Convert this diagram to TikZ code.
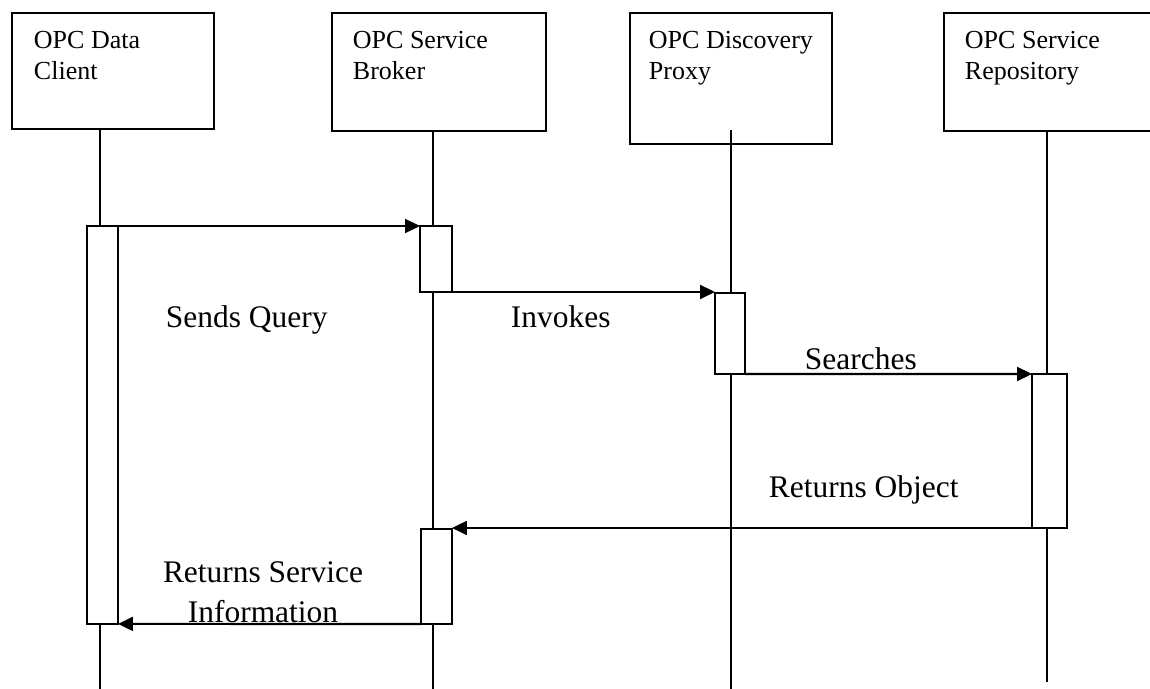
\documentclass[tikz,border=0pt]{standalone}
\usepackage{fontspec}
\setmainfont{Liberation Serif}
\usetikzlibrary{arrows.meta}

\begin{document}
\begin{tikzpicture}[x=0.02cm, y=-0.02cm, line width=1.1pt,
	actor/.style={draw, black, inner sep=0pt, anchor=north west},
	hdr/.style={inner sep=0pt, anchor=north west, align=left, font=\fontsize{14.8pt}{17.6pt}\selectfont},
	act/.style={draw, black, fill=white, inner sep=0pt, outer sep=0pt, anchor=north west, minimum width=0.62cm},
	msg/.style={-{Triangle[length=0.3cm, width=0.28cm]}, line width=1.2pt},
	lbl/.style={inner sep=0pt, anchor=base west, font=\fontsize{17.9pt}{22.8pt}\selectfont}]
	\useasboundingbox (0,0) rectangle (1150,689);

	% objects on top
	\node[actor, minimum width=4.04cm, minimum height=2.32cm] (client) at (11,12) {};
	\node[actor, minimum width=4.28cm, minimum height=2.36cm] (broker) at (331,12) {};
	\node[actor, minimum width=4.04cm, minimum height=2.62cm] (proxy) at (629,12) {};
	\node[actor, minimum width=4.2cm, minimum height=2.36cm] (repo) at (943,12) {};
	\node[hdr] (clienttxt) at ([xshift=0.44cm, yshift=-0.36cm]client.north west) {OPC Data\\Client};
	\node[hdr] (brokertxt) at ([xshift=0.42cm, yshift=-0.36cm]broker.north west) {OPC Service\\Broker};
	\node[hdr] (proxytxt) at ([xshift=0.38cm, yshift=-0.36cm]proxy.north west) {OPC Discovery\\Proxy};
	\node[hdr] (repotxt) at ([xshift=0.42cm, yshift=-0.36cm]repo.north west) {OPC Service\\Repository};

	% life lines
	\coordinate (l1) at (100,689);
	\coordinate (l2) at (433,689);
	\coordinate (l3top) at (731,130);
	\coordinate (l3) at (731,689);
	\coordinate (l4) at (1047,682);
	\draw (client.south -| l1) -- (l1);
	\draw (broker.south -| l2) -- (l2);
	\draw (l3top) -- (l3);
	\draw (repo.south -| l4) -- (l4);

	% activations
	\node[act, minimum height=7.96cm] (clientact) at (87,226) {};
	\node[act, minimum width=0.64cm, minimum height=1.32cm] (brokeract) at (420,226) {};
	\node[act, minimum width=0.6cm, minimum height=1.62cm] (proxyact) at (715,293) {};
	\node[act, minimum width=0.7cm, minimum height=3.08cm] (repoact) at (1032,374) {};
	\node[act, minimum height=1.9cm] (brokerret) at (421,529) {};

	% messages
	\draw[msg] (clientact.north east) -- (brokeract.north west);
	\draw[msg] (brokeract.south east) -- (brokeract.south east -| proxyact.west);
	\draw[msg] (proxyact.south east) -- (repoact.north west);
	\draw[msg] (repoact.south west) -- (repoact.south west -| brokerret.east);
	\draw[msg] (brokerret.south west) -- (clientact.south east);

	\node[lbl] (query) at (165,328) {Sends Query};
	\node[lbl] (invokes) at (510,328) {Invokes};
	\node[lbl] (searches) at (804,370) {Searches};
	\node[lbl] (retobj) at (768,497) {Returns Object};
	\node[lbl, anchor=north, align=center] (retinfo) at (263,561) {Returns Service\\Information};
\end{tikzpicture}
\end{document}
